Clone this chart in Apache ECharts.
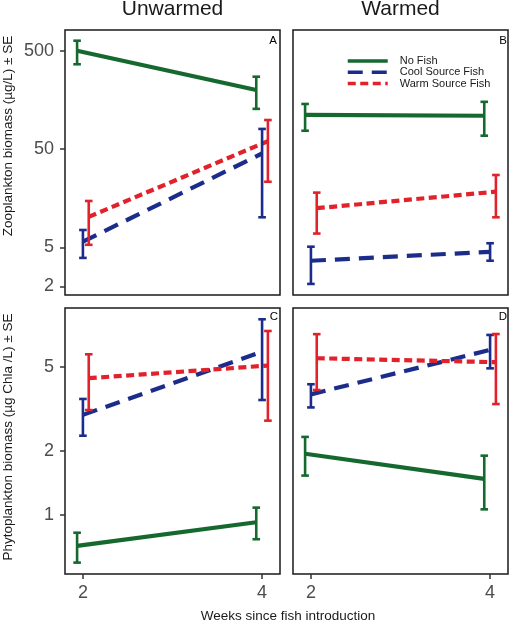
<!DOCTYPE html>
<html>
<head>
<meta charset="utf-8">
<script src="https://cdn.jsdelivr.net/npm/echarts@6/dist/echarts.min.js"></script>
<style>html,body{margin:0;padding:0;background:#fff;}#c{width:510px;height:624px;}</style>
</head>
<body>
<div id="c"></div>
<script>
// ---- data: each entry is [mean, lower SE, upper SE] for weeks 2 and 4 ----
const weeks = [2, 4];
const groups = ['No Fish', 'Cool Source Fish', 'Warm Source Fish'];
const zooTicks = [2, 5, 50, 500];
const phytoTicks = [1, 2, 5];
const stripTitles = ['Unwarmed', 'Warmed'];
const panelLetters = ['A', 'B', 'C', 'D'];

// Panel A: zooplankton, unwarmed
const zooUnwNoFish = [[500, 364, 632], [199, 128, 272]];
const zooUnwCool   = [[5.7, 3.9, 7.5], [45, 10.1, 80]];
const zooUnwWarm   = [[10.2, 5.3, 14.8], [60, 23.2, 98.6]];
// Panel B: zooplankton, warmed
const zooWarNoFish = [[111, 76.7, 143.6], [109, 68.3, 151]];
const zooWarCool   = [[3.65, 2.12, 5.07], [4.5, 3.65, 5.5]];
const zooWarWarm   = [[12.5, 6.9, 18], [18.4, 10.1, 27.2]];
// Panel C: phytoplankton, unwarmed
const phyUnwNoFish = [[0.712, 0.594, 0.822], [0.921, 0.766, 1.08]];
const phyUnwCool   = [[2.96, 2.36, 3.52], [5.89, 3.48, 8.37]];
const phyUnwWarm   = [[4.41, 3.12, 5.72], [5.06, 2.78, 7.37]];
// Panel D: phytoplankton, warmed
const phyWarNoFish = [[1.94, 1.53, 2.33], [1.475, 1.06, 1.90]];
const phyWarCool   = [[3.70, 3.21, 4.13], [6.0, 4.91, 7.06]];
const phyWarWarm   = [[5.48, 3.88, 7.12], [5.25, 3.33, 7.13]];

const panels = [
  [zooUnwNoFish, zooUnwCool, zooUnwWarm],
  [zooWarNoFish, zooWarCool, zooWarWarm],
  [phyUnwNoFish, phyUnwCool, phyUnwWarm],
  [phyWarNoFish, phyWarCool, phyWarWarm]
];

// ---- styles ----
const colors = ['#15692f', '#1c2c8a', '#e1222b'];
const dashes = ['solid', [15, 9], [8, 4.5]];
const dodge = [-0.065, 0, 0.065];
const FONT = 'Liberation Sans, Arial, Helvetica, sans-serif';
const lg = Math.log10;

const grids = [
  {left: 65, top: 30, width: 215, height: 265},
  {left: 293, top: 30, width: 215, height: 265},
  {left: 65, top: 308, width: 215, height: 266},
  {left: 293, top: 308, width: 215, height: 266}
].map(g => Object.assign(g, {show: true, borderColor: '#1a1a1a', borderWidth: 1.5, backgroundColor: '#fff'}));

const xAxes = [0, 1, 2, 3].map(i => ({
  type: 'value', gridIndex: i, min: 1.8, max: 4.2, position: 'bottom',
  axisLine: {show: false, onZero: false}, splitLine: {show: false},
  axisTick: {show: i >= 2, customValues: weeks, length: 5, lineStyle: {color: '#333', width: 1.5}},
  axisLabel: {show: i >= 2, customValues: weeks, margin: 10, fontSize: 18, color: '#4d4d4d', fontFamily: FONT}
}));

function yAxis(i) {
  const top = i < 2;
  const ticks = top ? zooTicks : phytoTicks;
  return {
    type: 'value', gridIndex: i, position: 'left',
    min: top ? 0.2137 : -0.280, max: top ? 2.9096 : 0.976,
    axisLine: {show: false, onZero: false}, splitLine: {show: false},
    axisTick: {show: i % 2 === 0, customValues: ticks.map(lg), length: 5, lineStyle: {color: '#333', width: 1.5}},
    axisLabel: {show: i % 2 === 0, customValues: ticks.map(lg), margin: 11, fontSize: 18, color: '#4d4d4d', fontFamily: FONT,
      formatter: v => String(ticks.find(t => Math.abs(lg(t) - v) < 1e-6))}
  };
}
const yAxes = [0, 1, 2, 3].map(yAxis);

const series = [];
panels.forEach((panel, pi) => {
  panel.forEach((grp, gi) => {
    series.push({
      type: 'line', name: groups[gi], xAxisIndex: pi, yAxisIndex: pi,
      symbol: 'none', silent: true, animation: false, z: 2,
      color: colors[gi],
      lineStyle: {color: colors[gi], width: 4.2, type: dashes[gi], cap: 'butt'},
      data: grp.map((d, k) => [weeks[k] + dodge[gi], lg(d[0])])
    });
  });
  panel.forEach((grp, gi) => {
    series.push({
      type: 'custom', name: 'err' + pi + gi, xAxisIndex: pi, yAxisIndex: pi,
      silent: true, animation: false, z: 3,
      encode: {x: 0, y: [1, 2]},
      data: grp.map((d, k) => [weeks[k] + dodge[gi], lg(d[1]), lg(d[2])]),
      renderItem: (params, api) => {
        const x = api.value(0);
        const a = api.coord([x, api.value(1)]);
        const b = api.coord([x, api.value(2)]);
        const hw = 3.8;
        const st = {stroke: colors[gi], lineWidth: 2.6};
        return {type: 'group', children: [
          {type: 'line', shape: {x1: a[0], y1: a[1], x2: b[0], y2: b[1]}, style: st},
          {type: 'line', shape: {x1: a[0] - hw, y1: a[1], x2: a[0] + hw, y2: a[1]}, style: st},
          {type: 'line', shape: {x1: b[0] - hw, y1: b[1], x2: b[0] + hw, y2: b[1]}, style: st}
        ]};
      }
    });
  });
});

const graphic = [
  {type: 'text', x: 172.5, y: 9.5, style: {text: stripTitles[0], font: '21px ' + FONT, fill: '#1a1a1a', textAlign: 'center', textVerticalAlign: 'middle'}},
  {type: 'text', x: 400.5, y: 9.5, style: {text: stripTitles[1], font: '21px ' + FONT, fill: '#1a1a1a', textAlign: 'center', textVerticalAlign: 'middle'}},
  {type: 'text', x: 277, y: 40.5, style: {text: panelLetters[0], font: '11.5px ' + FONT, fill: '#000', textAlign: 'right', textVerticalAlign: 'middle'}},
  {type: 'text', x: 507, y: 40.5, style: {text: panelLetters[1], font: '11.5px ' + FONT, fill: '#000', textAlign: 'right', textVerticalAlign: 'middle'}},
  {type: 'text', x: 278, y: 317, style: {text: panelLetters[2], font: '11.5px ' + FONT, fill: '#000', textAlign: 'right', textVerticalAlign: 'middle'}},
  {type: 'text', x: 507, y: 317, style: {text: panelLetters[3], font: '11.5px ' + FONT, fill: '#000', textAlign: 'right', textVerticalAlign: 'middle'}},
  {type: 'text', x: 288, y: 616, style: {text: 'Weeks since fish introduction', font: '13.5px ' + FONT, fill: '#1a1a1a', textAlign: 'center', textVerticalAlign: 'middle'}},
  {type: 'text', x: 8.5, y: 136, rotation: Math.PI / 2, style: {text: 'Zooplankton biomass (µg/L) ± SE', font: '13.5px ' + FONT, fill: '#1a1a1a', textAlign: 'center', textVerticalAlign: 'middle'}},
  {type: 'text', x: 8.5, y: 437, rotation: Math.PI / 2, style: {text: 'Phytoplankton biomass (µg Chla /L) ± SE', font: '13.5px ' + FONT, fill: '#1a1a1a', textAlign: 'center', textVerticalAlign: 'middle'}}
];

const chart = echarts.init(document.getElementById('c'), null, {renderer: 'canvas'});
chart.setOption({
  animation: false,
  backgroundColor: '#fff',
  grid: grids,
  xAxis: xAxes,
  yAxis: yAxes,
  legend: {
    data: groups, orient: 'vertical', left: 346, top: 55.5, padding: 0,
    itemWidth: 40, itemHeight: 11, itemGap: 0.3, selectedMode: false,
    itemStyle: {opacity: 0},
    lineStyle: {width: 3.5},
    textStyle: {fontSize: 11, lineHeight: 11, color: '#1a1a1a', fontFamily: FONT, padding: [0, 0, 0, 7]}
  },
  graphic: graphic,
  series: series
});
</script>
</body>
</html>
